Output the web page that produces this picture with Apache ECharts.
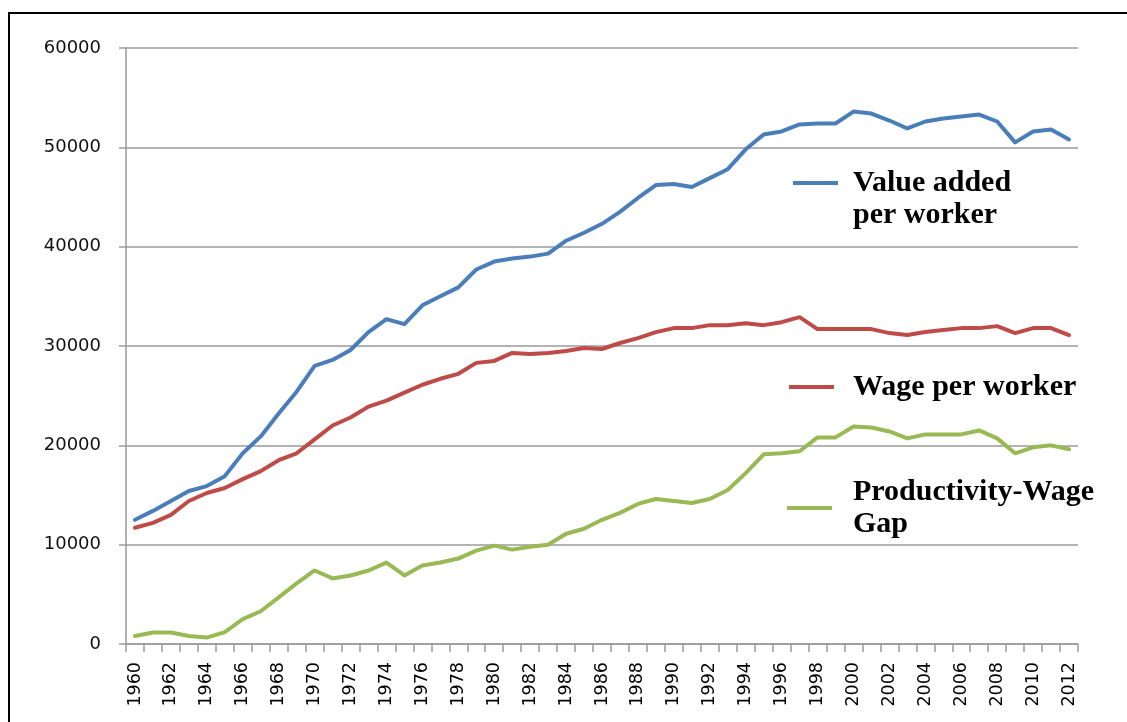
<!DOCTYPE html>
<html>
<head>
<meta charset="utf-8">
<script src="https://cdn.jsdelivr.net/npm/echarts/dist/echarts.min.js"></script>
<style>
  html, body { margin: 0; padding: 0; background: #fff; }
  #chart { width: 1127px; height: 722px; }
</style>
</head>
<body>
<div id="chart"></div>
<script>
// years on the category axis
const years = []
for (let y = 1960; y <= 2012; y++) years.push(String(y))

// value added per worker
const valueAdded = [
  12500, 13400, 14400, 15400, 15900, 16900, 19200, 20900, 23200, 25400,
  28000, 28600, 29600, 31400, 32700, 32200, 34100, 35000, 35900, 37700,
  38500, 38800, 39000, 39300, 40600, 41400, 42300, 43500, 44900, 46200,
  46300, 46000, 46900, 47800, 49800, 51300, 51600, 52300, 52400, 52400,
  53600, 53400, 52700, 51900, 52600, 52900, 53100, 53300, 52600, 50500,
  51600, 51800, 50800
]

// wage per worker
const wage = [
  11700, 12200, 13000, 14400, 15200, 15700, 16600, 17400, 18500, 19200,
  20600, 22000, 22800, 23900, 24500, 25300, 26100, 26700, 27200, 28300,
  28500, 29300, 29200, 29300, 29500, 29800, 29700, 30300, 30800, 31400,
  31800, 31800, 32100, 32100, 32300, 32100, 32400, 32900, 31700, 31700,
  31700, 31700, 31300, 31100, 31400, 31600, 31800, 31800, 32000, 31300,
  31800, 31800, 31100
]

// productivity-wage gap
const gap = [
  800, 1150, 1150, 800, 650, 1200, 2500, 3300, 4700, 6100,
  7400, 6600, 6900, 7400, 8200, 6900, 7900, 8200, 8600, 9400,
  9900, 9500, 9800, 10000, 11100, 11600, 12500, 13200, 14100, 14600,
  14400, 14200, 14600, 15500, 17200, 19100, 19200, 19400, 20800, 20800,
  21900, 21800, 21400, 20700, 21100, 21100, 21100, 21500, 20700, 19200,
  19800, 20000, 19600
]

const names = ['Value added per worker', 'Wage per worker', 'Productivity-Wage Gap']
const colors = ['#4A7EBB', '#BE4B48', '#98B954']

const chart = echarts.init(document.getElementById('chart'))

const legendFont = {
  fontFamily: 'Liberation Serif',
  fontWeight: 'bold',
  fontSize: 30,
  color: '#000',
  lineHeight: 32
}

function lineSeries(name, data, color) {
  return {
    name: name,
    type: 'line',
    data: data,
    symbol: 'none',
    itemStyle: { color: color },
    lineStyle: { color: color, width: 4, cap: 'round', join: 'round' }
  }
}

chart.setOption({
  animation: false,
  color: colors,
  grid: { left: 126, right: 49, top: 48, bottom: 78 },
  graphic: [{
    type: 'rect',
    shape: { x: 9, y: 13, width: 1200, height: 800 },
    style: { fill: 'none', stroke: '#000', lineWidth: 2 },
    silent: true
  }],
  legend: [
    {
      // blank first line keeps the icon level with "Value added"
      data: [names[0]], left: 793, top: 135, padding: 0,
      icon: 'rect', itemWidth: 45, itemHeight: 4,
      formatter: () => ' \nValue added\nper worker',
      textStyle: Object.assign({ padding: [0, 0, 0, 10] }, legendFont)
    },
    {
      data: [names[1]], left: 789, top: 371, padding: 0,
      icon: 'rect', itemWidth: 45, itemHeight: 4,
      textStyle: Object.assign({ padding: [0, 0, 0, 14] }, legendFont)
    },
    {
      data: [names[2]], left: 787, top: 476, padding: 0,
      icon: 'rect', itemWidth: 45, itemHeight: 4,
      formatter: () => 'Productivity-Wage\nGap',
      textStyle: Object.assign({ padding: [0, 0, 0, 16] }, legendFont)
    }
  ],
  xAxis: {
    type: 'category',
    data: years,
    boundaryGap: true,
    axisLine: { lineStyle: { color: '#9a9a9a', width: 1.5 } },
    axisTick: { show: true, interval: 0, length: 8, lineStyle: { color: '#9a9a9a', width: 1.5 } },
    axisLabel: {
      interval: 1, rotate: 90, margin: 18,
      fontFamily: 'DejaVu Sans', fontSize: 17.5, color: '#000'
    },
    splitLine: { show: false }
  },
  yAxis: {
    type: 'value',
    min: 0, max: 60000, interval: 10000,
    axisLine: { show: true, lineStyle: { color: '#9a9a9a', width: 1.5 } },
    axisTick: { show: true, length: 7, lineStyle: { color: '#9a9a9a', width: 1.5 } },
    axisLabel: {
      margin: 25, formatter: v => String(v),
      fontFamily: 'DejaVu Sans', fontSize: 18, color: '#111'
    },
    splitLine: { lineStyle: { color: '#9a9a9a', width: 1.5 } }
  },
  series: [
    lineSeries(names[0], valueAdded, colors[0]),
    lineSeries(names[1], wage, colors[1]),
    lineSeries(names[2], gap, colors[2])
  ]
})
</script>
</body>
</html>
